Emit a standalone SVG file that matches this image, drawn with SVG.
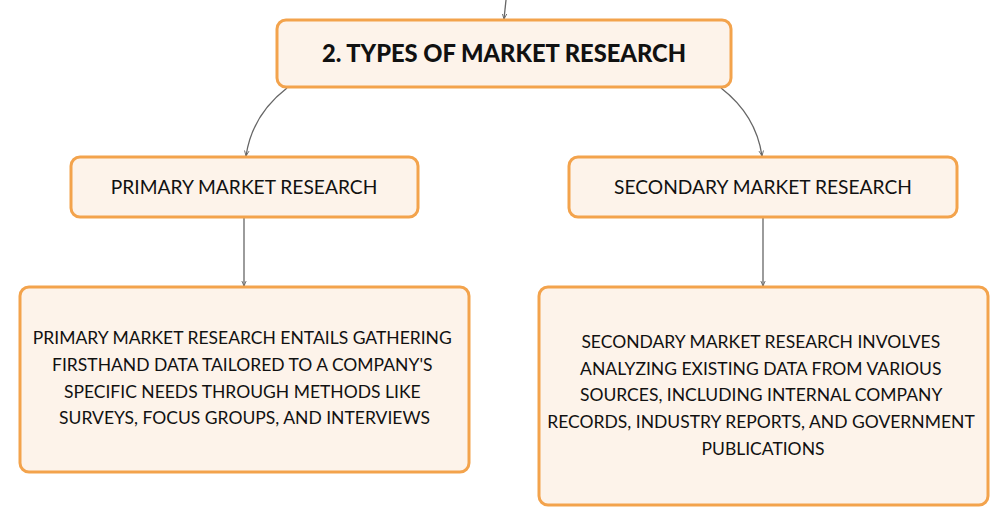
<svg xmlns="http://www.w3.org/2000/svg" width="1008" height="526" viewBox="0 0 1008 526">
<style>
.box{fill:#fdf3ea;stroke:#f3a34c;stroke-width:3}
.t{font-family:Lato,"Open Sans",sans-serif;fill:#111;text-anchor:middle}
.h{font-size:19.2px}
.d{font-size:17.5px}
.title{font-size:23.7px;font-weight:900}
.c{fill:none;stroke:#666;stroke-width:1.3}
</style>
<defs>
<marker id="a" viewBox="0 0 8 8" refX="7" refY="4" markerWidth="6" markerHeight="6" orient="auto" markerUnits="userSpaceOnUse">
<path d="M0,1 L7,4 L0,7" fill="none" stroke="#666" stroke-width="1.2"/>
</marker>
</defs>
<rect width="1008" height="526" fill="#fff"/>
<g id="connectors">
<path class="c" d="M506,0 L504,19" marker-end="url(#a)"/>
<path class="c" d="M287,88 Q252,115 246,156" marker-end="url(#a)"/>
<path class="c" d="M721,88 Q756,115 762,156" marker-end="url(#a)"/>
<path class="c" d="M244,218 L244,286" marker-end="url(#a)"/>
<path class="c" d="M763,218 L763,286" marker-end="url(#a)"/>
</g>
<g id="node-types">
<rect class="box" x="277" y="20" width="454" height="67" rx="9"/>
<text class="t title" x="504" y="62">2. TYPES OF MARKET RESEARCH</text>
</g>
<g id="node-primary">
<rect class="box" x="71" y="157" width="347" height="60" rx="9"/>
<text class="t h" x="244" y="194">PRIMARY MARKET RESEARCH</text>
</g>
<g id="node-secondary">
<rect class="box" x="569" y="157" width="388" height="60" rx="9"/>
<text class="t h" x="763" y="194">SECONDARY MARKET RESEARCH</text>
</g>
<g id="node-primary-desc">
<rect class="box" x="20" y="287" width="449" height="185" rx="9"/>
<text class="t d" x="244.5">
<tspan x="244.5" y="344">PRIMARY MARKET RESEARCH ENTAILS GATHERING</tspan>
<tspan x="244.5" y="371">FIRSTHAND DATA TAILORED TO A COMPANY'S</tspan>
<tspan x="244.5" y="398">SPECIFIC NEEDS THROUGH METHODS LIKE</tspan>
<tspan x="244.5" y="424">SURVEYS, FOCUS GROUPS, AND INTERVIEWS</tspan>
</text>
</g>
<g id="node-secondary-desc">
<rect class="box" x="539" y="287" width="449" height="218" rx="9"/>
<text class="t d" x="763">
<tspan x="763" y="348">SECONDARY MARKET RESEARCH INVOLVES</tspan>
<tspan x="763" y="375">ANALYZING EXISTING DATA FROM VARIOUS</tspan>
<tspan x="763" y="401">SOURCES, INCLUDING INTERNAL COMPANY</tspan>
<tspan x="763" y="428">RECORDS, INDUSTRY REPORTS, AND GOVERNMENT</tspan>
<tspan x="763" y="455">PUBLICATIONS</tspan>
</text>
</g>
</svg>
